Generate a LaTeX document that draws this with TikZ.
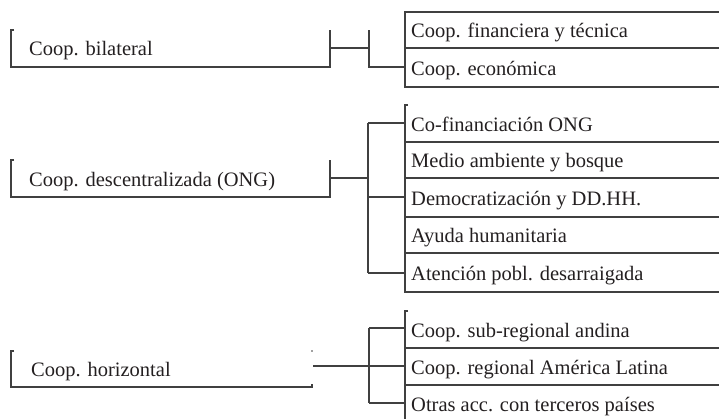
\documentclass[tikz,border=0pt]{standalone}
\usepackage{fontspec}
\setmainfont{Liberation Serif}
\definecolor{lc}{HTML}{404040}
\definecolor{tc}{HTML}{231F20}
\begin{document}
\begin{tikzpicture}[x=1pt,y=-1pt,
  ln/.style={draw=lc, line width=1.3pt},
  lbl/.style={anchor=base west, inner sep=0pt, text=tc, font=\fontsize{20.5}{24}\selectfont}]
\useasboundingbox (0,0) rectangle (719,418);

% ---------- Group 1 ----------
\node[lbl] (g1) at (29,55.5) {Coop. bilateral};
\draw[ln] (14,30) -- (11,30) -- (11,67) -- (330,67) -- (330,30);
\coordinate (g1out) at (330,48);
\coordinate (j1) at (369,48);
\coordinate (j1t) at (369,30);
\coordinate (j1b) at (369,67);
\coordinate (s1in) at (405,67);
\draw[ln] (g1out) -- (j1);
\draw[ln] (j1t) -- (j1b) -- (s1in);
\draw[ln] (719,12) -- (405,12) -- (405,87) -- (719,87);
\draw[ln] (405,48) -- (719,48);
\node[lbl] (r11) at (411,37.5) {Coop. financiera y técnica};
\node[lbl] (r12) at (411,75) {Coop. económica};

% ---------- Group 2 ----------
\node[lbl] (g2) at (29,186) {Coop. descentralizada (ONG)};
\draw[ln] (14,160) -- (11,160) -- (11,197) -- (330,197) -- (330,160);
\coordinate (g2out) at (330,178);
\coordinate (j2) at (368,178);
\coordinate (j2t) at (368,123);
\coordinate (j2m) at (368,197);
\coordinate (j2b) at (368,273);
\draw[ln] (g2out) -- (j2);
\draw[ln] (j2t) -- (j2b);
\draw[ln] (j2t) -- (405,123);
\draw[ln] (j2m) -- (405,197);
\draw[ln] (j2b) -- (405,273);
\draw[ln] (408,105) -- (405,105) -- (405,292) -- (719,292);
\foreach \yy in {142,178,217,253} \draw[ln] (405,\yy) -- (719,\yy);
\node[lbl] (r21) at (411,131) {Co-financiación ONG};
\node[lbl] (r22) at (411,167.5) {Medio ambiente y bosque};
\node[lbl] (r23) at (411,205) {Democratización y DD.HH.};
\node[lbl] (r24) at (411,242.5) {Ayuda humanitaria};
\node[lbl] (r25) at (411,280) {Atención pobl. desarraigada};

% ---------- Group 3 ----------
\node[lbl] (g3) at (31,376) {Coop. horizontal};
\draw[ln] (14,351) -- (11,351) -- (11,387) -- (312,387) -- (312,384);
\fill[lc] (312,351) circle (0.8);
\coordinate (g3out) at (313,366);
\coordinate (j3t) at (369,328);
\coordinate (j3b) at (369,403);
\coordinate (s3in) at (405,366);
\draw[ln] (g3out) -- (s3in);
\draw[ln] (j3t) -- (j3b);
\draw[ln] (j3t) -- (405,328);
\draw[ln] (j3b) -- (405,403);
\draw[ln] (408,311) -- (405,311) -- (405,420);
\foreach \yy in {348,385} \draw[ln] (405,\yy) -- (719,\yy);
\node[lbl] (r31) at (411,337) {Coop. sub-regional andina};
\node[lbl] (r32) at (411,374) {Coop. regional América Latina};
\node[lbl] (r33) at (411,411) {Otras acc. con terceros países};
\end{tikzpicture}
\end{document}
